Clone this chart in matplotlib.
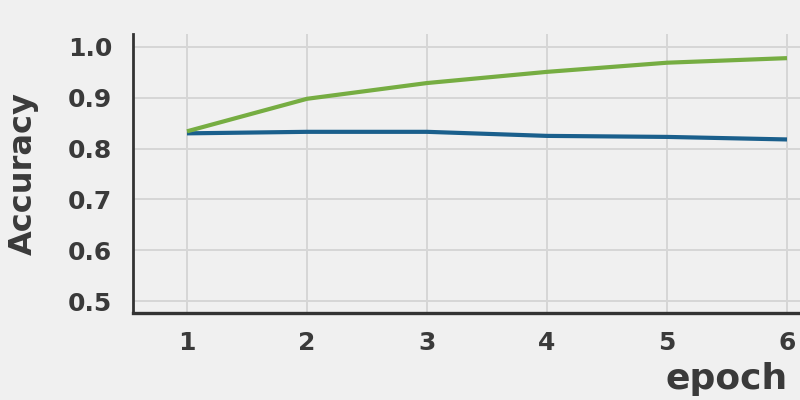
import matplotlib
matplotlib.use("Agg")
import matplotlib.pyplot as plt

epochs = [1, 2, 3, 4, 5, 6]
train_acc = [0.834, 0.898, 0.929, 0.951, 0.969, 0.978]
val_acc = [0.830, 0.833, 0.833, 0.825, 0.823, 0.818]
yticks = [0.5, 0.6, 0.7, 0.8, 0.9, 1.0]

bg = "#f0f0f0"
txt = "#3a3a3a"

fig = plt.figure(figsize=(8, 4), dpi=100, facecolor=bg)
ax = fig.add_axes([133 / 800, 87 / 400, 1067 / 800, 279 / 400], facecolor=bg)

ax.plot(epochs, val_acc, color="#1a5f8c", lw=3, solid_capstyle="butt", zorder=3)
ax.plot(epochs, train_acc, color="#76ad42", lw=3, solid_capstyle="butt", zorder=3)

ax.set_xlim(0.55, 0.55 + 1067 / 120)
ax.set_ylim(0.4765, 1.0255)
ax.set_xticks(epochs)
ax.set_yticks(yticks)
ax.set_yticklabels([f"{v:.1f}" for v in yticks])

ax.grid(True, color="#d6d6d6", lw=1.4)
ax.set_axisbelow(True)

for s in ["top", "right"]:
    ax.spines[s].set_visible(False)
ax.spines["left"].set_color("#333333")
ax.spines["left"].set_linewidth(2)
ax.spines["bottom"].set_color("#333333")
ax.spines["bottom"].set_linewidth(2.4)

ax.tick_params(axis="both", length=0, labelsize=18, labelcolor=txt)
ax.tick_params(axis="y", pad=15)
ax.tick_params(axis="x", pad=13)
for lab in ax.get_xticklabels() + ax.get_yticklabels():
    lab.set_fontweight("bold")

ax.set_ylabel("Accuracy", fontsize=23, fontweight="bold", color=txt, va="center")
ax.yaxis.set_label_coords(-0.103, 0.5)
ax.set_xlabel("epoch", fontsize=26, fontweight="bold", color=txt, va="center")
ax.xaxis.set_label_coords((727 - 133) / 1067, (313 - 379) / 279)

fig.savefig("out.png", dpi=100, facecolor=bg)
